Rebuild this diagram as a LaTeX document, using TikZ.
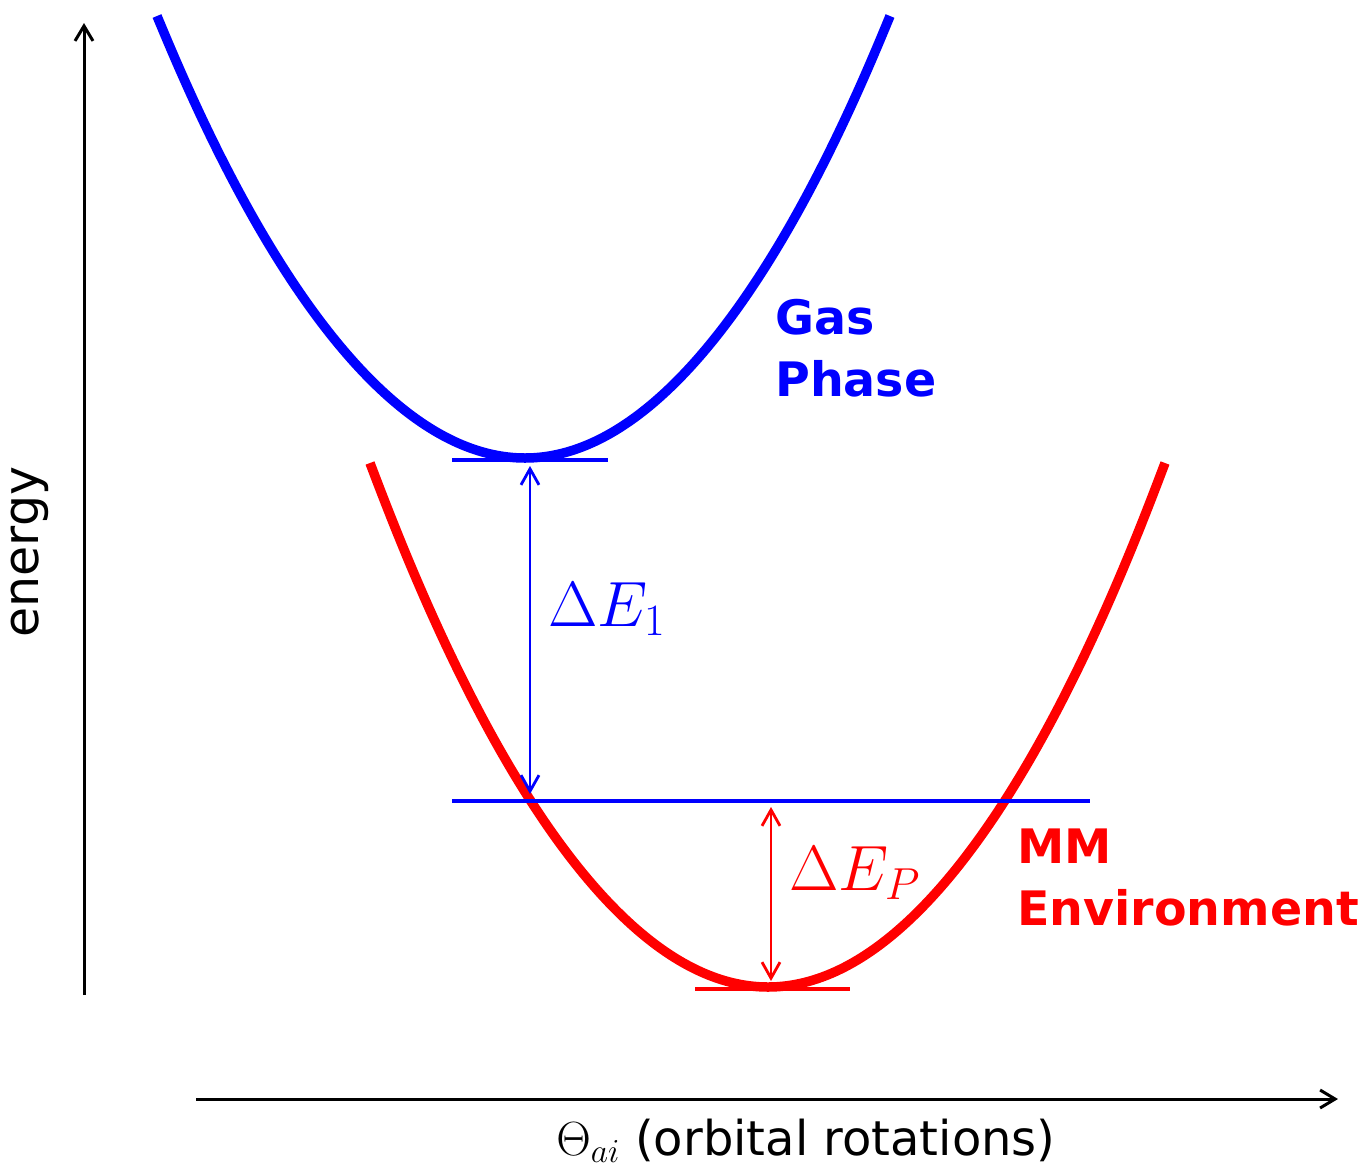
\RequirePackage{fix-cm}
\documentclass[tikz,border=0pt]{standalone}
\usepackage[no-math]{fontspec}
\setmainfont{DejaVu Sans}
\usetikzlibrary{arrows.meta}
\definecolor{pblue}{RGB}{0,0,255}
\definecolor{pred}{RGB}{255,0,0}
\begin{document}
\begin{tikzpicture}[x=1pt,y=-1pt,
  curve/.style={line width=9.5pt},
  levelline/.style={line width=3.5pt},
  gaparrow/.style={line width=2.8pt,
    {Straight Barb[length=16pt,width=18pt]}-{Straight Barb[length=16pt,width=18pt]}},
  axisline/.style={line width=3pt, -{Straight Barb[length=15pt,width=18pt]}},
  lab/.style={inner sep=0pt, font=\fontsize{48}{63}\selectfont},
  boldlab/.style={inner sep=0pt, font=\fontsize{47.5}{62}\selectfont\bfseries, align=left, anchor=north west},
  mathlab/.style={inner sep=0pt, anchor=base west, font=\fontsize{64}{78}\selectfont}]
\useasboundingbox (0,0) rectangle (1365,1171);
% axes
\coordinate (yo) at (84,995);
\coordinate (ytip) at (84,23);
\coordinate (xo) at (196,1099);
\coordinate (xtip) at (1338,1099);
\draw[axisline] (yo) -- (ytip);
\draw[axisline] (xo) -- (xtip);
\node[lab, rotate=90, font=\fontsize{49}{63}\selectfont] (elab) at (30,552) {energy};
\node[lab, anchor=base] (xlab) at (806,1155) {$\Theta_{ai}$ (orbital rotations)};
% gas phase curve
\coordinate (gl) at (157,16);
\coordinate (gmin) at (525,458);
\coordinate (gr) at (890,16);
\draw[curve, pblue] (gl) parabola bend (gmin) (gr);
% MM curve
\coordinate (ml) at (370,463);
\coordinate (mmin) at (768,987);
\coordinate (mr) at (1165,463);
\draw[curve, pred] (ml) parabola bend (mmin) (mr);
% level lines
\coordinate (gt1) at (452,460);
\coordinate (gt2) at (608,460);
\draw[levelline, pblue] (gt1) -- (gt2);
\coordinate (lv1) at (452,801);
\coordinate (lv2) at (1090,801);
\draw[levelline, pblue] (lv1) -- (lv2);
\coordinate (mt1) at (695,989);
\coordinate (mt2) at (850,989);
\draw[levelline, pred] (mt1) -- (mt2);
% gap arrows
\coordinate (a1t) at (530,466);
\coordinate (a1b) at (530,794);
\draw[gaparrow, pblue] (a1t) -- (a1b);
\coordinate (a2t) at (771,807);
\coordinate (a2b) at (771,981);
\draw[gaparrow, pred] (a2t) -- (a2b);
% labels
\node[mathlab, pblue] (de1) at (548,626) {$\Delta E_1$};
\node[mathlab, pred] (dep) at (789,890) {$\Delta E_P$};
\node[boldlab, pblue] (gas) at (775,299) {Gas\\Phase};
\node[boldlab, pred] (mm) at (1017,829) {MM\\Environment};
\end{tikzpicture}
\end{document}
